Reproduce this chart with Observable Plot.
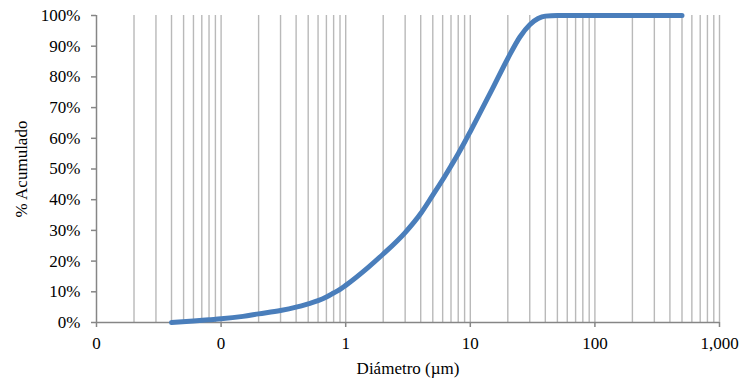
<!DOCTYPE html>
<html>
<head>
<meta charset="utf-8">
<script src="https://cdn.jsdelivr.net/npm/d3@7"></script>
<script src="https://cdn.jsdelivr.net/npm/@observablehq/plot@0.6"></script>
<style>
  html, body { margin: 0; padding: 0; background: #fff; }
  svg { font-family: "Liberation Serif", "Times New Roman", serif; }
</style>
</head>
<body>
<div id="chart"></div>
<script>
const diametro = [0.04, 0.06, 0.08, 0.1, 0.15, 0.2, 0.3, 0.4, 0.5, 0.6, 0.7, 0.8, 0.9, 1, 1.5, 2, 3, 4, 5, 6, 7, 8, 9, 10, 15, 20, 25, 30, 35, 40, 50, 100, 200, 500];
const acumulado = [0, 0.5, 0.9, 1.2, 2.0, 2.8, 3.9, 5.0, 6.1, 7.1, 8.3, 9.6, 10.8, 12.1, 17.8, 22.3, 29.3, 35.5, 41.5, 46.5, 51, 55, 58.7, 62.2, 76, 86, 93, 97, 99, 99.8, 100, 100, 100, 100];
const xTicks = [0.01, 0.1, 1, 10, 100, 1000];
const xTickLabels = ["0", "0", "1", "10", "100", "1,000"];
const yTicks = [0, 10, 20, 30, 40, 50, 60, 70, 80, 90, 100];
const yTickLabels = ["0%", "10%", "20%", "30%", "40%", "50%", "60%", "70%", "80%", "90%", "100%"];

const data = diametro.map((d, i) => ({d, v: acumulado[i]}));
const xDomain = [0.01, 1000];
const gridTicks = d3.scaleLog().domain(xDomain).ticks().filter(t => t > 0.01);

const chart = Plot.plot({
  width: 740,
  height: 381,
  marginLeft: 96,
  marginRight: 21,
  marginTop: 15,
  marginBottom: 59,
  style: {fontFamily: "'Liberation Serif', 'Times New Roman', serif", fontSize: "17px", color: "#000", background: "#fff"},
  x: {type: "log", domain: xDomain},
  y: {domain: [0, 100]},
  marks: [
    Plot.ruleX(gridTicks, {stroke: "#b9b9b9", strokeWidth: 1.4, strokeOpacity: 1}),
    Plot.ruleY([0], {stroke: "#868686", strokeWidth: 1.5}),
    Plot.ruleX([0.01], {stroke: "#868686", strokeWidth: 1.5}),
    Plot.axisX({ticks: xTicks, tickFormat: (d) => xTickLabels[xTicks.indexOf(d)], tickSize: 5, tickPadding: 9, stroke: "#868686", strokeWidth: 1.5, fill: "#000",
      label: "Diámetro (µm)", labelAnchor: "center", labelArrow: "none", labelOffset: 51}),
    Plot.axisY({ticks: yTicks, tickFormat: (d) => yTickLabels[yTicks.indexOf(d)], tickSize: 5, tickPadding: 11, stroke: "#868686", strokeWidth: 1.5, fill: "#000",
      label: "% Acumulado", labelAnchor: "center", labelArrow: "none", labelOffset: 82}),
    Plot.line(data, {x: "d", y: "v", stroke: "#4a7ebb", strokeWidth: 5, curve: "monotone-x", strokeLinecap: "round"})
  ]
});
document.getElementById("chart").appendChild(chart);
</script>
</body>
</html>
